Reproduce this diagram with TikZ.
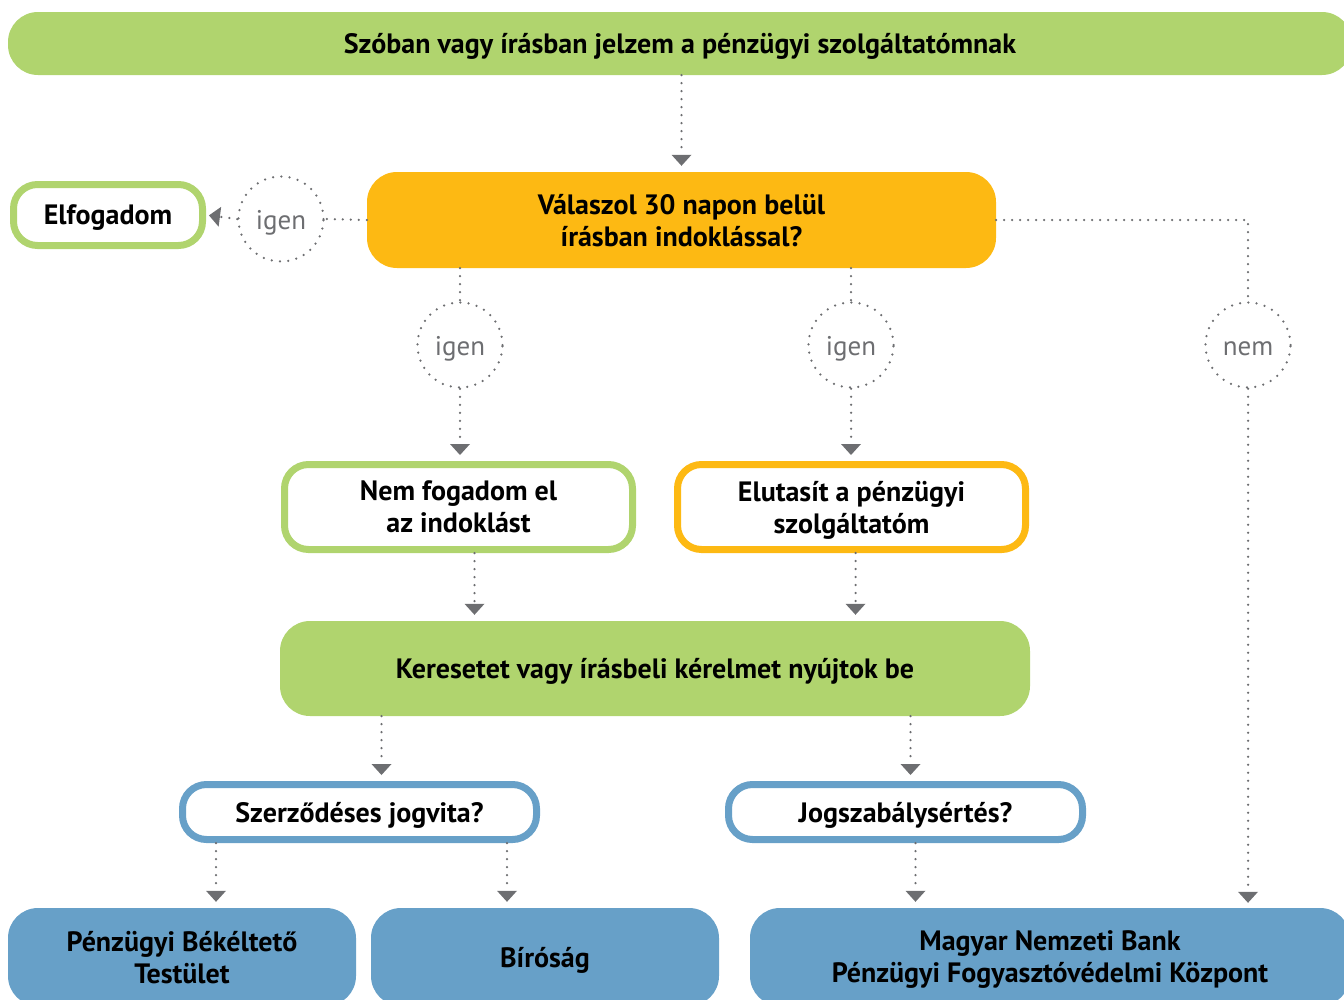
\documentclass[tikz,border=0pt]{standalone}
\usepackage{fontspec}
\setmainfont{PT Sans}
\usetikzlibrary{arrows.meta,positioning,calc}
\definecolor{boxgreen}{HTML}{B0D46E}
\definecolor{boxorange}{HTML}{FDB913}
\definecolor{boxblue}{HTML}{67A0C8}
\definecolor{dotgray}{HTML}{6D6E71}

\begin{document}
\begin{tikzpicture}[x=1pt, y=-1pt, >={Triangle[width=20pt,length=11pt,line width=0pt]},
  font=\bfseries\fontsize{28}{32}\selectfont]
\tikzstyle{fillbox}=[rectangle, rounded corners=30pt, align=center, inner sep=0pt, text depth=0pt]
\tikzstyle{linebox}=[rectangle, rounded corners=24pt, line width=7pt, fill=white, align=center, inner sep=0pt, text depth=0pt]
\tikzstyle{answer}=[circle, draw=dotgray, line width=2.5pt, line cap=round, dash pattern=on 0pt off 8.3pt,
  minimum size=85pt, inner sep=0pt, text=dotgray, text height=20pt, text depth=0pt,
  font=\mdseries\fontsize{27}{27}\selectfont]
\tikzstyle{dotline}=[draw=dotgray, line width=2.5pt, line cap=round, dash pattern=on 0pt off 8pt]
\tikzstyle{dotarrow}=[dotline, ->, shorten >=6pt]

\useasboundingbox (0,0) rectangle (1344,999);

% boxes
\node[fillbox, fill=boxgreen, minimum width=1344pt, minimum height=63pt] (tell) at (680,43.5)
  {Szóban vagy írásban jelzem a pénzügyi szolgáltatómnak};
\node[fillbox, fill=boxorange, minimum width=629pt, minimum height=96pt] (reply) at (681.5,220)
  {Válaszol 30 napon belül\\írásban indoklással?};
\node[linebox, draw=boxgreen, minimum width=189pt, minimum height=61pt] (accept) at (108,215) {Elfogadom};
\node[linebox, draw=boxgreen, minimum width=348pt, minimum height=85pt] (reject) at (458.5,507)
  {Nem fogadom el\\az indoklást};
\node[linebox, draw=boxorange, minimum width=348pt, minimum height=85pt] (refuse) at (851.5,507)
  {Elutasít a pénzügyi\\szolgáltatóm};
\node[fillbox, fill=boxgreen, minimum width=750pt, minimum height=95pt] (claim) at (655,668.5)
  {Keresetet vagy írásbeli kérelmet nyújtok be};
\node[linebox, draw=boxblue, minimum width=354pt, minimum height=55pt] (contract) at (359.5,812)
  {Szerződéses jogvita?};
\node[linebox, draw=boxblue, minimum width=354pt, minimum height=55pt] (breach) at (905.5,812)
  {Jogszabálysértés?};
\node[fillbox, fill=boxblue, minimum width=348pt, minimum height=98pt] (board) at (182,957)
  {Pénzügyi Békéltető\\Testület};
\node[fillbox, fill=boxblue, minimum width=348pt, minimum height=98pt] (court) at (545,957) {Bíróság};
\node[fillbox, fill=boxblue, minimum width=600pt, minimum height=98pt] (mnb) at (1050,957)
  {Magyar Nemzeti Bank\\Pénzügyi Fogyasztóvédelmi Központ};

% answers
\node[answer] (yesL) at (281,219) {igen};
\node[answer] (yesA) at (460,345) {igen};
\node[answer] (yesB) at (851,345) {igen};
\node[answer] (no) at (1248,345) {nem};

% connectors
\draw[dotarrow] (reply.north |- tell.south) -- (reply.north);
\draw[dotline] (reply.west) -- (yesL.east);
\draw[dotarrow, shorten >=3pt] (yesL.west) -- (accept.east);
\draw[dotline] (reply.south -| yesA) -- (yesA.north);
\draw[dotarrow] (yesA.south) -- (yesA.south |- reject.north);
\draw[dotline] (reply.south -| yesB) -- (yesB.north);
\draw[dotarrow] (yesB.south) -- (yesB.south |- refuse.north);
\draw[dotline] (reply.east) -| (no.north);
\draw[dotarrow, shorten >=5pt] (no.south) -- (no.south |- mnb.north);
\draw[dotarrow] ([xshift=16pt]reject.south) -- ([xshift=16pt]reject.south |- claim.north);
\draw[dotarrow] ([xshift=4pt]refuse.south) -- ([xshift=4pt]refuse.south |- claim.north);
\draw[dotarrow] ([xshift=22pt]contract.north |- claim.south) -- ([xshift=22pt]contract.north);
\draw[dotarrow] ([xshift=5pt]breach.north |- claim.south) -- ([xshift=5pt]breach.north);
\draw[dotarrow] ([xshift=34pt]board.north |- contract.south) -- ([xshift=34pt]board.north);
\draw[dotarrow] ([xshift=-38pt]court.north |- contract.south) -- ([xshift=-38pt]court.north);
\draw[dotarrow] ([xshift=10pt]breach.south) -- ([xshift=10pt]breach.south |- mnb.north);
\end{tikzpicture}
\end{document}
